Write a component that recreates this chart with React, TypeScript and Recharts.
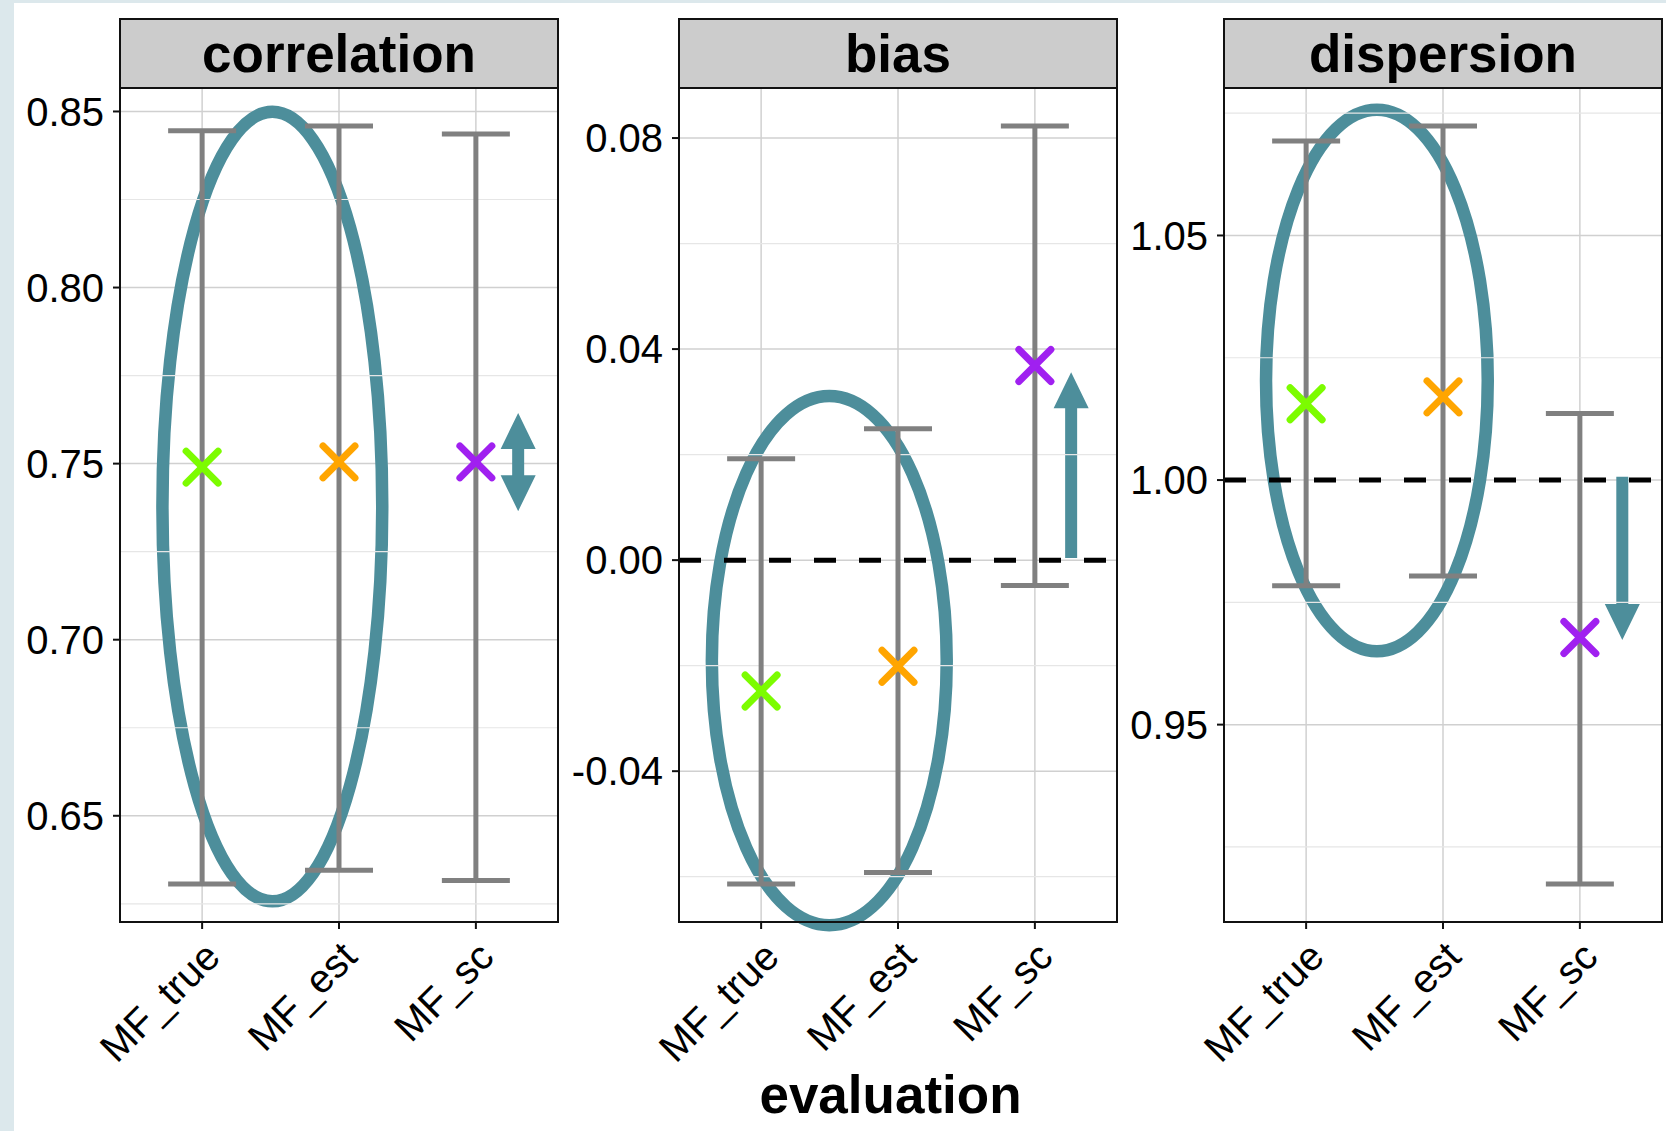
import React from 'react';
import { ComposedChart, Scatter, ErrorBar, XAxis, YAxis, CartesianGrid, ReferenceLine, ReferenceArea } from 'recharts';

const methods = ['MF_true', 'MF_est', 'MF_sc'];
const methodColors = ['#7cfc00', '#ffa500', '#a020f0'];

// correlation panel
const corMean = [0.749, 0.7505, 0.7505];
const corLower = [0.6306, 0.6345, 0.6316];
const corUpper = [0.8445, 0.8459, 0.8436];
const corTicks = [0.65, 0.7, 0.75, 0.8, 0.85];
const corMinor = [0.625, 0.675, 0.725, 0.775, 0.825];

// bias panel
const biasMean = [-0.0248, -0.0201, 0.0369];
const biasLower = [-0.0614, -0.0592, -0.0048];
const biasUpper = [0.0192, 0.0249, 0.0823];
const biasTicks = [-0.04, 0, 0.04, 0.08];
const biasMinor = [-0.06, -0.02, 0.02, 0.06];

// dispersion panel
const dispMean = [1.0156, 1.017, 0.9678];
const dispLower = [0.9784, 0.9804, 0.9174];
const dispUpper = [1.0693, 1.0724, 1.0136];
const dispTicks = [0.95, 1.0, 1.05];
const dispMinor = [0.925, 0.975, 1.025, 1.075];

// annotations (data units: x = category position 1..3)
const corEllipse = { x: [0.71, 2.316], y: [0.6257, 0.8499] };
const biasEllipse = { x: [0.64, 2.356], y: [-0.0692, 0.0311] };
const dispEllipse = { x: [0.707, 2.327], y: [0.965, 1.0757] };
const corArrow = { x: 3.309, from: 0.7365, to: 0.7644, dir: 'both' };
const biasArrow = { x: 3.265, from: 0.0004, to: 0.0356, dir: 'up' };
const dispArrow = { x: 3.31, from: 1.0007, to: 0.9673, dir: 'down' };

const FONT = '"Liberation Sans", Arial, Helvetica, sans-serif';
const TEAL = '#4d8e9b';
const PLOT_TOP = 88;
const STRIP_TOP = 18;
const PLOT_W = 438;
const PLOT_H = 834;
const AXIS_W = 110;

function XMark(props: any) {
  const { cx, cy, payload } = props;
  const c = methodColors[methods.indexOf(payload.method)];
  const r = 16;
  return (
    <g>
      <line x1={cx - r} y1={cy - r} x2={cx + r} y2={cy + r} stroke={c} strokeWidth={7} strokeLinecap="round" />
      <line x1={cx - r} y1={cy + r} x2={cx + r} y2={cy - r} stroke={c} strokeWidth={7} strokeLinecap="round" />
    </g>
  );
}

function MethodTick({ x, y, payload }: any) {
  return (
    <g transform={`translate(${x + 20},${y + 28})`}>
      <text transform="rotate(-45)" textAnchor="end" fontSize={40} fontFamily={FONT} fill="#000">
        {methods[payload.value - 1]}
      </text>
    </g>
  );
}

const ellipseShape = (p: any) => (
  <ellipse cx={p.x + p.width / 2} cy={p.y + p.height / 2} rx={p.width / 2} ry={p.height / 2}
    fill="none" stroke={TEAL} strokeWidth={12.5} />
);

const arrowShape = (dir: string) => (p: any) => {
  const { x, y, width: w, height: h } = p;
  const cx = x + w / 2;
  const hh = 36;
  const s = 6;
  let pts: number[][];
  if (dir === 'up') {
    pts = [[cx, y], [x + w, y + hh], [cx + s, y + hh], [cx + s, y + h], [cx - s, y + h], [cx - s, y + hh], [x, y + hh]];
  } else if (dir === 'down') {
    pts = [[cx, y + h], [x + w, y + h - hh], [cx + s, y + h - hh], [cx + s, y], [cx - s, y], [cx - s, y + h - hh], [x, y + h - hh]];
  } else {
    pts = [[cx, y], [x + w, y + hh], [cx + s, y + hh], [cx + s, y + h - hh], [x + w, y + h - hh], [cx, y + h],
      [x, y + h - hh], [cx - s, y + h - hh], [cx - s, y + hh], [x, y + hh]];
  }
  return <polygon points={pts.map((q) => q.join(',')).join(' ')} fill={TEAL} />;
};

interface PanelProps {
  title: string;
  left: number;
  mean: number[];
  lower: number[];
  upper: number[];
  ticks: number[];
  minor: number[];
  ellipse: { x: number[]; y: number[] };
  arrow: { x: number; from: number; to: number; dir: string };
  hline?: number;
}

function Panel({ title, left, mean, lower, upper, ticks, minor, ellipse, arrow, hline }: PanelProps) {
  const rows = methods.map((m, i) => ({
    pos: i + 1,
    method: m,
    mean: mean[i],
    err: [mean[i] - lower[i], upper[i] - mean[i]],
  }));
  const lo = Math.min(...lower);
  const hi = Math.max(...upper);
  const pad = (hi - lo) * 0.05;
  const domain = [lo - pad, hi + pad];

  return (
    <>
      <div style={{
        position: 'absolute', left: left - 1, top: STRIP_TOP, width: PLOT_W + 2, height: PLOT_TOP - STRIP_TOP + 1,
        background: '#cccccc', border: '2px solid #111', boxSizing: 'border-box',
        display: 'flex', alignItems: 'center', justifyContent: 'center',
        fontFamily: FONT, fontWeight: 'bold', fontSize: 53, lineHeight: 1, color: '#000',
      }}>{title}</div>
      <div style={{ position: 'absolute', left: left - AXIS_W, top: PLOT_TOP }}>
        <ComposedChart width={AXIS_W + PLOT_W + 4} height={PLOT_H + 200} data={rows}
          margin={{ top: 0, right: 4, bottom: 0, left: 0 }}>
          <CartesianGrid stroke="#d0d0d0" strokeWidth={1.5} />
          {minor.map((v) => (
            <ReferenceLine key={v} y={v} stroke="#e6e6e6" strokeWidth={1.2} />
          ))}
          <XAxis type="number" dataKey="pos" domain={[0.4, 3.6]} ticks={[1, 2, 3]} allowDataOverflow
            height={200} axisLine={false} tickSize={7} tickMargin={2}
            tickLine={{ stroke: '#111', strokeWidth: 2 }} tick={<MethodTick />} interval={0} />
          <YAxis type="number" dataKey="mean" domain={domain} ticks={ticks} allowDataOverflow
            width={AXIS_W} axisLine={false} tickSize={7} tickMargin={9} interval={0}
            tickLine={{ stroke: '#111', strokeWidth: 2 }}
            tick={{ fontSize: 40, fill: '#000', fontFamily: FONT }}
            tickFormatter={(v: number) => v.toFixed(2)} />
          <Scatter data={rows} dataKey="mean" isAnimationActive={false} shape={() => <g />}>
            <ErrorBar dataKey="err" direction="y" width={34} stroke="#808080" strokeWidth={5}
              isAnimationActive={false} />
          </Scatter>
          <Scatter data={rows} dataKey="mean" isAnimationActive={false} shape={<XMark />} />
          {hline !== undefined && (
            <ReferenceLine y={hline} stroke="#000" strokeWidth={5} strokeDasharray="22 23" />
          )}
          <ReferenceArea x1={ellipse.x[0]} x2={ellipse.x[1]} y1={ellipse.y[0]} y2={ellipse.y[1]}
            ifOverflow="visible" shape={ellipseShape} />
          <ReferenceArea x1={arrow.x - 0.128} x2={arrow.x + 0.128}
            y1={Math.min(arrow.from, arrow.to)} y2={Math.max(arrow.from, arrow.to)}
            ifOverflow="visible" shape={arrowShape(arrow.dir)} />
        </ComposedChart>
      </div>
      <div style={{
        position: 'absolute', left: left - 1, top: PLOT_TOP - 1, width: PLOT_W + 2, height: PLOT_H + 2,
        border: '2px solid #111', boxSizing: 'border-box', pointerEvents: 'none',
      }} />
    </>
  );
}

export default function App() {
  return (
    <div style={{ position: 'fixed', left: 0, top: 0, width: 1666, height: 1131, background: '#dce8ec', overflow: 'hidden' }}>
      <div style={{ position: 'absolute', left: 14, top: 3, right: 0, bottom: 0, background: '#fff' }} />
      <Panel title="correlation" left={120} mean={corMean} lower={corLower} upper={corUpper}
        ticks={corTicks} minor={corMinor} ellipse={corEllipse} arrow={corArrow} />
      <Panel title="bias" left={679} mean={biasMean} lower={biasLower} upper={biasUpper}
        ticks={biasTicks} minor={biasMinor} ellipse={biasEllipse} arrow={biasArrow} hline={0} />
      <Panel title="dispersion" left={1224} mean={dispMean} lower={dispLower} upper={dispUpper}
        ticks={dispTicks} minor={dispMinor} ellipse={dispEllipse} arrow={dispArrow} hline={1} />
      <div style={{
        position: 'absolute', left: 120, top: 1068, width: 1541, textAlign: 'center',
        fontFamily: FONT, fontWeight: 'bold', fontSize: 53, lineHeight: 1, color: '#000',
      }}>evaluation</div>
    </div>
  );
}
